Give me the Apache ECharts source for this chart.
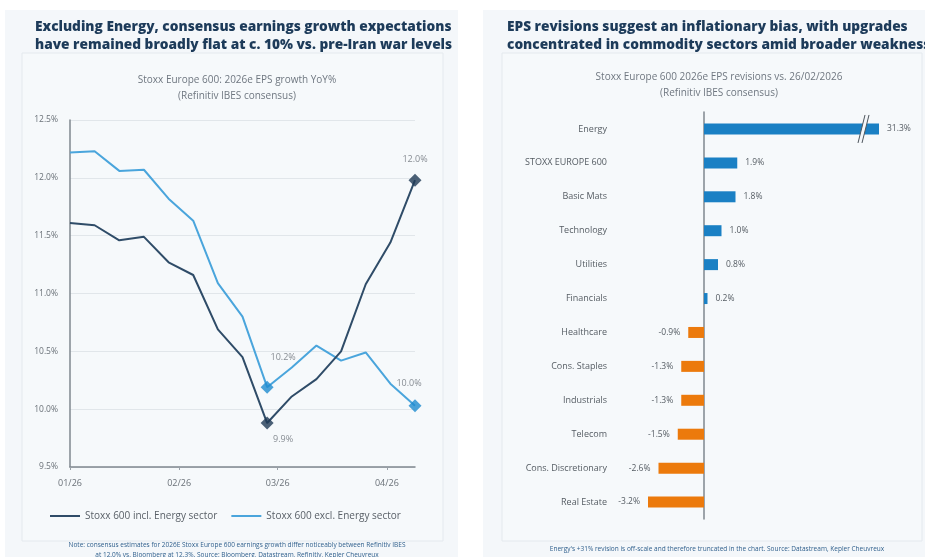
<!DOCTYPE html>
<html>
<head>
<meta charset="utf-8">
<script src="https://cdn.jsdelivr.net/npm/echarts@6/dist/echarts.min.js"></script>
<style>
	html, body { margin: 0; padding: 0; background: #ffffff; }
	#main { width: 925px; height: 557px; }
</style>
</head>
<body>
<div id="main"></div>
<script>
	// left chart: weekly 2026e EPS growth YoY%
	var weekDates = ['2026-01-01', '2026-01-08', '2026-01-15', '2026-01-22', '2026-01-29', '2026-02-05', '2026-02-12',
		'2026-02-19', '2026-02-26', '2026-03-05', '2026-03-12', '2026-03-19', '2026-03-26', '2026-04-02', '2026-04-09'];
	var inclEnergy = [11.61, 11.59, 11.46, 11.49, 11.27, 11.16, 10.69, 10.45, 9.88, 10.11, 10.26, 10.50, 11.08, 11.44, 11.98];
	var exclEnergy = [12.22, 12.23, 12.06, 12.07, 11.82, 11.63, 11.09, 10.80, 10.19, 10.36, 10.55, 10.42, 10.49, 10.22, 10.03];
	var yTicks = [9.5, 10.0, 10.5, 11.0, 11.5, 12.0, 12.5];
	var inclMarked = [8, 14]; // 9.9% trough, 12.0% latest
	var exclMarked = [8, 14]; // 10.2% trough, 10.0% latest

	// right chart: 2026e EPS revisions vs. 26/02/2026
	var sectors = ['Energy', 'STOXX EUROPE 600', 'Basic Mats', 'Technology', 'Utilities', 'Financials', 'Healthcare',
		'Cons. Staples', 'Industrials', 'Telecom', 'Cons. Discretionary', 'Real Estate'];
	var revisions = [31.3, 1.9, 1.8, 1.0, 0.8, 0.2, -0.9, -1.3, -1.3, -1.5, -2.6, -3.2];
	var offScaleCap = 10; // Energy is drawn truncated at this value

	var bg = '#f4f7fa';
	var navy = '#1d3b5a';
	var darkLine = '#2f4c68';
	var lightLine = '#4aa5dc';

	var chart = echarts.init(document.getElementById('main'));

	function pairs(vals) {
		var out = [];
		for(var i = 0; i < vals.length; i++) {
			out.push([weekDates[i], vals[i]]);
		}
		return out;
	}

	function marked(vals, idx, labels) {
		var out = [];
		for(var i = 0; i < idx.length; i++) {
			var k = idx[i];
			out.push({
				value: [weekDates[k], vals[k]],
				label: labels[i]
			});
		}
		return out;
	}

	var barData = [];
	for(var i = 0; i < revisions.length; i++) {
		var v = revisions[i];
		barData.push({
			value: Math.min(v, offScaleCap),
			real: v,
			itemStyle: { color: v >= 0 ? '#1a80c4' : '#ec7a0c' },
			label: { position: v >= 0 ? 'right' : 'left' }
		});
	}

	var option = {
		backgroundColor: '#ffffff',
		animation: false,
		textStyle: { fontFamily: 'Open Sans' },
		graphic: [
			{ type: 'rect', z: -10, shape: { x: 5, y: 10, width: 453, height: 547 }, style: { fill: bg } },
			{ type: 'rect', z: -10, shape: { x: 483, y: 10, width: 442, height: 547 }, style: { fill: bg } },
			{ type: 'rect', z: -9, shape: { x: 22, y: 53, width: 421, height: 488 }, style: { fill: '#f6f9fb', stroke: '#e4e9ee', lineWidth: 1 } },
			{ type: 'rect', z: -9, shape: { x: 502, y: 53, width: 420, height: 488 }, style: { fill: '#f6f9fb', stroke: '#e4e9ee', lineWidth: 1 } }
		],
		title: [{
			text: 'Excluding Energy, consensus earnings growth expectations\nhave remained broadly flat at c. 10% vs. pre-Iran war levels',
			left: 30, top: 13,
			textStyle: { fontSize: 13.7, fontWeight: 800, color: navy, lineHeight: 18, fontFamily: 'Open Sans' }
		}, {
			text: 'Stoxx Europe 600: 2026e EPS growth YoY%\n(Refinitiv IBES consensus)',
			left: 232, top: 67, textAlign: 'center',
			textStyle: { fontSize: 10, fontWeight: 'normal', color: '#6f7780', lineHeight: 16 }
		}, {
			text: 'EPS revisions suggest an inflationary bias, with upgrades\nconcentrated in commodity sectors amid broader weakness',
			left: 502, top: 13,
			textStyle: { fontSize: 13.7, fontWeight: 800, color: navy, lineHeight: 18, fontFamily: 'Open Sans' }
		}, {
			text: 'Stoxx Europe 600 2026e EPS revisions vs. 26/02/2026\n(Refinitiv IBES consensus)',
			left: 714, top: 64, textAlign: 'center',
			textStyle: { fontSize: 10, fontWeight: 'normal', color: '#6f7780', lineHeight: 16 }
		}, {
			text: 'Note: consensus estimates for 2026E Stoxx Europe 600 earnings growth differ noticeably between Refinitiv IBES\nat 12.0% vs. Bloomberg at 12.3%. Source: Bloomberg, Datastream, Refinitiv, Kepler Cheuvreux',
			left: 232, top: 535, textAlign: 'center',
			textStyle: { fontSize: 6.5, fontWeight: 'normal', color: '#2f5f8c', lineHeight: 10 }
		}, {
			text: 'Energy\'s +31% revision is off-scale and therefore truncated in the chart. Source: Datastream, Kepler Cheuvreux',
			left: 712, top: 541, textAlign: 'center',
			textStyle: { fontSize: 6.5, fontWeight: 'normal', color: '#2f5f8c' }
		}],
		legend: {
			data: ['Stoxx 600 incl. Energy sector', 'Stoxx 600 excl. Energy sector'],
			left: 45, top: 506,
			itemWidth: 30, itemHeight: 2, itemGap: 14,
			icon: 'rect',
			textStyle: { fontSize: 10, color: '#5a6168' }
		},
		grid: [{
			left: 70, top: 120, width: 345, height: 347
		}, {
			left: 599, top: 112, width: 315, height: 407
		}],
		xAxis: [{
			gridIndex: 0,
			type: 'time',
			min: '2026-01-01',
			max: '2026-04-09',
			minInterval: 28 * 86400000,
			maxInterval: 31 * 86400000,
			axisLine: { lineStyle: { color: '#7f878f', width: 1.5 } },
			axisTick: { show: true, length: 3, lineStyle: { color: '#9aa1a8' } },
			axisLabel: { formatter: '{MM}/{yy}', color: '#6a7178', fontSize: 9, margin: 12, showMinLabel: true },
			splitLine: { show: false }
		}, {
			gridIndex: 1,
			type: 'value',
			min: -6,
			max: 12,
			show: false
		}],
		yAxis: [{
			gridIndex: 0,
			type: 'value',
			min: yTicks[0],
			max: yTicks[yTicks.length - 1],
			interval: 0.5,
			axisLine: { show: true, lineStyle: { color: '#7f878f', width: 1.5 } },
			axisTick: { show: false },
			axisLabel: {
				color: '#6a7178', fontSize: 8.5, margin: 12,
				formatter: function(v) { return v.toFixed(1) + '%'; }
			},
			splitLine: { lineStyle: { color: '#e1e6ea', width: 1 } }
		}, {
			gridIndex: 1,
			type: 'category',
			data: sectors,
			inverse: true,
			axisLine: { show: true, lineStyle: { color: '#7f878f', width: 1.5 } },
			axisTick: { show: false },
			axisLabel: { color: '#555c63', fontSize: 9, margin: -8 },
			splitLine: { show: false }
		}],
		series: [{
			name: 'Stoxx 600 incl. Energy sector',
			type: 'line',
			xAxisIndex: 0, yAxisIndex: 0,
			data: pairs(inclEnergy),
			symbol: 'none',
			color: darkLine,
			lineStyle: { width: 2, color: darkLine },
			z: 3
		}, {
			name: 'Stoxx 600 excl. Energy sector',
			type: 'line',
			xAxisIndex: 0, yAxisIndex: 0,
			data: pairs(exclEnergy),
			symbol: 'none',
			color: lightLine,
			lineStyle: { width: 2, color: lightLine },
			z: 2
		}, {
			name: 'incl marks',
			type: 'scatter',
			xAxisIndex: 0, yAxisIndex: 0,
			symbol: 'diamond',
			symbolSize: 13,
			itemStyle: { color: '#1f3a55' },
			data: marked(inclEnergy, inclMarked, [
				{ show: true, position: 'bottom', offset: [16, 0] },
				{ show: true, position: 'top', distance: 10 }
			]),
			label: {
				color: '#6a7178', fontSize: 9,
				formatter: function(p) { return p.value[1].toFixed(1) + '%'; }
			},
			z: 5
		}, {
			name: 'excl marks',
			type: 'scatter',
			xAxisIndex: 0, yAxisIndex: 0,
			symbol: 'diamond',
			symbolSize: 13,
			itemStyle: { color: '#1e8bd0' },
			data: marked(exclEnergy, exclMarked, [
				{ show: true, position: 'top', offset: [16, -14] },
				{ show: true, position: 'top', offset: [-6, -6] }
			]),
			label: {
				color: '#6a7178', fontSize: 9,
				formatter: function(p) { return p.value[1].toFixed(1) + '%'; }
			},
			z: 5
		}, {
			name: 'revisions',
			type: 'bar',
			xAxisIndex: 1, yAxisIndex: 1,
			data: barData,
			barWidth: 11,
			label: {
				show: true, distance: 8, color: '#555c63', fontSize: 8.5,
				formatter: function(p) { return p.data.real.toFixed(1) + '%'; }
			}
		}, {
			name: 'break',
			type: 'custom',
			xAxisIndex: 1, yAxisIndex: 1,
			data: [[offScaleCap - 1, 0]],
			renderItem: function(params, api) {
				var c = api.coord([api.value(0), api.value(1)]);
				var h = 14, s = 3.5, w = 4;
				return {
					type: 'group',
					children: [{
						type: 'polygon',
						shape: { points: [[c[0] - s, c[1] + h], [c[0] + s, c[1] - h], [c[0] + s + w, c[1] - h], [c[0] - s + w, c[1] + h]] },
						style: { fill: bg }
					}, {
						type: 'line',
						shape: { x1: c[0] - s, y1: c[1] + h, x2: c[0] + s, y2: c[1] - h },
						style: { stroke: '#4d555c', lineWidth: 1 }
					}, {
						type: 'line',
						shape: { x1: c[0] - s + w, y1: c[1] + h, x2: c[0] + s + w, y2: c[1] - h },
						style: { stroke: '#4d555c', lineWidth: 1 }
					}]
				};
			},
			z: 6
		}]
	};

	chart.setOption(option);
</script>
</body>
</html>
